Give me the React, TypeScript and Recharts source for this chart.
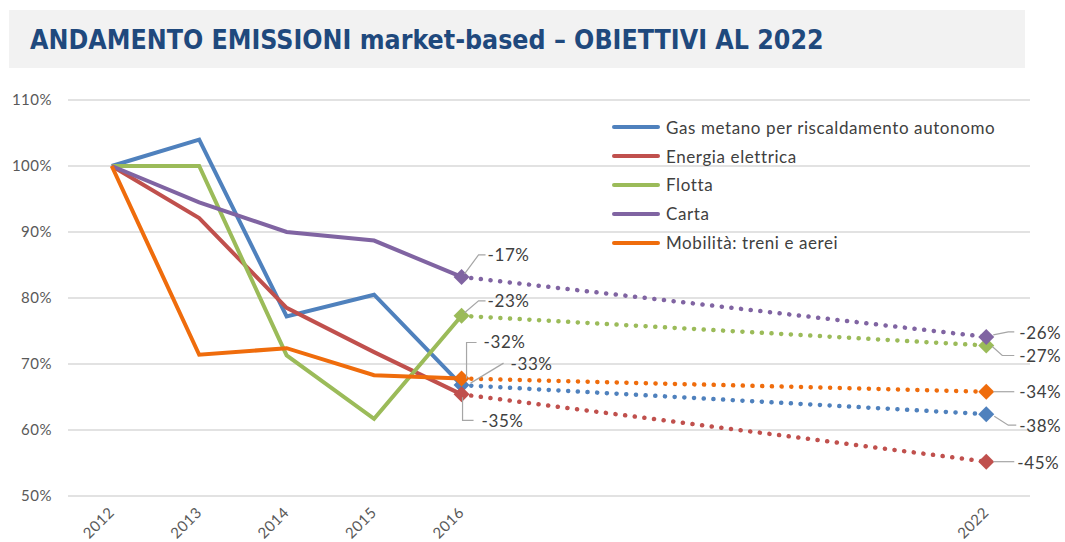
import React from 'react'
import { LineChart, Line, XAxis, YAxis, CartesianGrid, LabelList } from 'recharts'

// years shown on the axis (2017-2021 are empty)
const years = [2012, 2013, 2014, 2015, 2016, 2022]
const seriesNames = [
  'Gas metano per riscaldamento autonomo',
  'Energia elettrica',
  'Flotta',
  'Carta',
  'Mobilità: treni e aerei',
]
const colors = ['#4f81bd', '#c0504d', '#9bbb59', '#8064a2', '#ef6c0c']

// 2012..2016, % of 2012
const gasMetano = [100, 104, 77.2, 80.5, 66.8]
const energiaElettrica = [100, 92.1, 78.5, 71.8, 65.4]
const flotta = [100, 100, 71.3, 61.7, 77.3]
const carta = [100, 94.5, 90, 88.7, 83.2]
const mobilita = [100, 71.4, 72.4, 68.3, 67.8]
const history = [gasMetano, energiaElettrica, flotta, carta, mobilita]

// targets for 2022, same order as seriesNames
const obiettivi2022 = [62.4, 55.2, 72.8, 74.1, 65.8]
const labels2016 = ['-33%', '-35%', '-23%', '-17%', '-32%']
const labels2022 = ['-38%', '-45%', '-27%', '-26%', '-34%']
const yTicks = [50, 60, 70, 80, 90, 100, 110]

const rows = years.map((year, r) => {
  const row: any = { year }
  history.forEach((vals, i) => {
    if (r < vals.length) row[`s${i}`] = vals[r]
    if (r === 4) row[`p${i}`] = vals[r]
    if (year === 2022) row[`p${i}`] = obiettivi2022[i]
  })
  return row
})

// leader line + text placement, relative to the marker
const leaders2016 = [
  { pts: [[9, -2], [42, -22]], tx: 49, ty: -22 },
  { pts: [[1, 3], [1, 26], [12, 26]], tx: 20, ty: 26 },
  { pts: [[3, -3], [17, -15], [24, -15]], tx: 26, ty: -15 },
  { pts: [[3, -3], [17, -22], [24, -22]], tx: 26, ty: -22 },
  { pts: [[5, 0], [5, -36], [15, -36]], tx: 22, ty: -37 },
]
const leaders2022 = [
  { pts: [[8, 2], [22, 11], [30, 11]], tx: 33, ty: 11 },
  { pts: [[7, 0], [28, 0]], tx: 31, ty: 1 },
  { pts: [[6, 1], [16, 10], [28, 10]], tx: 33, ty: 10 },
  { pts: [[7, -2], [22, -5], [28, -5]], tx: 33, ty: -4 },
  { pts: [[7, 0], [28, 0]], tx: 33, ty: 0 },
]

const textFont = 'Lato, "Open Sans", sans-serif'

const Diamond = (color: string) => (props: any) => {
  const { cx, cy, payload, index } = props
  if (cy == null || payload == null) return <g key={index} />
  const s = 8
  return (
    <path
      key={index}
      d={`M${cx},${cy - s}L${cx + s},${cy}L${cx},${cy + s}L${cx - s},${cy}Z`}
      fill={color}
      stroke="none"
    />
  )
}

const makeLabel = (i: number) => (props: any) => {
  const { x, y, value, index } = props
  if (value == null || y == null) return null
  const is2022 = rows[index] && rows[index].year === 2022
  const cfg = is2022 ? leaders2022[i] : leaders2016[i]
  const text = is2022 ? labels2022[i] : labels2016[i]
  const pts = cfg.pts.map((p) => `${x + p[0]},${y + p[1]}`).join(' ')
  return (
    <g>
      <polyline points={pts} fill="none" stroke="#a6a6a6" strokeWidth={1.2} />
      <text
        x={x + cfg.tx}
        y={y + cfg.ty}
        dominantBaseline="central"
        fontSize={17}
        letterSpacing={0.6}
        fill="#404040"
        fontFamily={textFont}
      >
        {text}
      </text>
    </g>
  )
}

const XTick = (props: any) => {
  const { x, y, payload } = props
  const ax = x - 5
  const ay = y + 1
  return (
    <text
      x={ax}
      y={ay}
      transform={`rotate(-45 ${ax} ${ay})`}
      textAnchor="end"
      dy="0.8em"
      fontSize={15}
      letterSpacing={0.5}
      fill="#595959"
      fontFamily={textFont}
    >
      {payload.value}
    </text>
  )
}

export default function App() {
  return (
    <div style={{ position: 'relative', width: 1065, height: 542, background: '#fff', overflow: 'hidden' }}>
      <style>{'body{margin:0}'}</style>
      <div
        style={{
          position: 'absolute',
          left: 9,
          top: 10,
          width: 1016,
          height: 58,
          background: '#f2f2f2',
        }}
      >
        <div
          style={{
            position: 'absolute',
            left: 21,
            top: 14,
            fontFamily: '"Liberation Sans Narrow", "DejaVu Sans Condensed", sans-serif',
            fontWeight: 'bold',
            fontSize: 26.5,
            color: '#1f497d',
            whiteSpace: 'nowrap',
          }}
        >
          ANDAMENTO EMISSIONI market-based – OBIETTIVI AL 2022
        </div>
      </div>
      <LineChart
        width={1065}
        height={542}
        data={rows}
        margin={{ top: 100, right: 35, bottom: 0, left: 0 }}
        style={{ position: 'absolute', left: 0, top: 0 }}
      >
        <CartesianGrid vertical={false} stroke="#d9d9d9" strokeWidth={1.3} />
        <XAxis
          dataKey="year"
          type="number"
          domain={[2011.5, 2022.5]}
          ticks={years}
          interval={0}
          axisLine={false}
          tickLine={false}
          height={46}
          tick={<XTick />}
        />
        <YAxis
          domain={[50, 110]}
          ticks={yTicks}
          width={68}
          axisLine={false}
          tickLine={false}
          tickMargin={10}
          tickFormatter={(v: number) => `${v}%`}
          tick={{ fill: '#595959', fontSize: 15, fontFamily: textFont, letterSpacing: 0.5 }}
        />
        {seriesNames.map((n, i) => (
          <Line
            key={`s${i}`}
            dataKey={`s${i}`}
            name={n}
            stroke={colors[i]}
            strokeWidth={4}
            dot={false}
            activeDot={false}
            isAnimationActive={false}
          />
        ))}
        {seriesNames.map((n, i) => (
          <Line
            key={`p${i}`}
            dataKey={`p${i}`}
            name={`${n} obiettivo`}
            stroke={colors[i]}
            strokeWidth={4.5}
            strokeDasharray="0.1 9.6"
            strokeLinecap="round"
            connectNulls
            dot={Diamond(colors[i])}
            activeDot={false}
            legendType="none"
            isAnimationActive={false}
          >
            <LabelList dataKey={`p${i}`} content={makeLabel(i)} />
          </Line>
        ))}
      </LineChart>
      <div
        style={{
          position: 'absolute',
          left: 612,
          top: 113,
          fontFamily: textFont,
          fontSize: 17,
          letterSpacing: 0.6,
          color: '#404040',
        }}
      >
        {seriesNames.map((n, i) => (
          <div key={n} style={{ display: 'flex', alignItems: 'center', height: 28.8 }}>
            <div style={{ width: 48, height: 4, background: colors[i], borderRadius: 2, marginRight: 6 }} />
            <span>{n}</span>
          </div>
        ))}
      </div>
    </div>
  )
}
